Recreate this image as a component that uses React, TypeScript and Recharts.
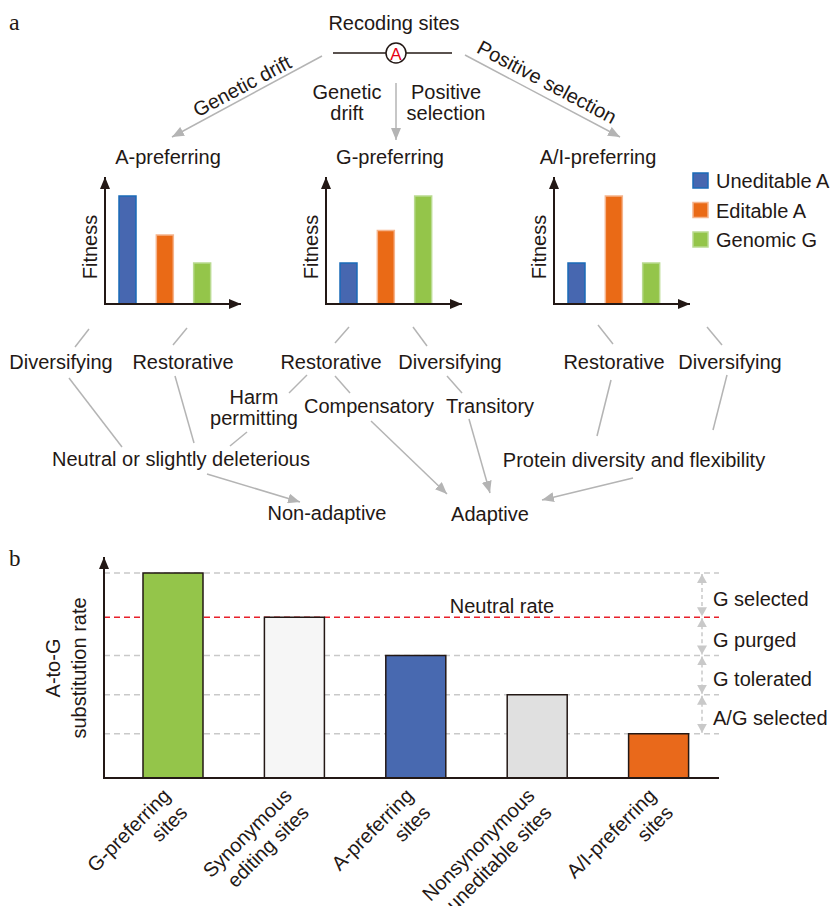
import React from 'react';
import { BarChart, Bar, XAxis, YAxis, Cell, ReferenceLine } from 'recharts';

// panel a: fitness of the three alleles under each regime
const alleles = ['Uneditable A', 'Editable A', 'Genomic G'];
const aPreferring = [100, 64, 38];
const gPreferring = [38, 68, 100];
const aiPreferring = [38, 100, 38];

// panel b: A-to-G substitution rate by site class
const siteClasses = ['G-preferring', 'Synonymous', 'A-preferring', 'Nonsynonymous', 'A/I-preferring'];
const siteLine1 = ['G-preferring', 'Synonymous', 'A-preferring', 'Nonsynonymous', 'A/I-preferring'];
const siteLine2 = ['sites', 'editing sites', 'sites', 'uneditable sites', 'sites'];
const substitutionRate = [5.1, 4.0, 3.05, 2.07, 1.1];
const neutralRate = 4.0;
const bandLabels = ['G selected', 'G purged', 'G tolerated', 'A/G selected'];

const FONT = '"Liberation Sans", Arial, Helvetica, sans-serif';
const SERIF = '"Liberation Serif", "Times New Roman", serif';
const INK = '#231815';
const GRAY = '#b4b4b4';
const GRID = '#c9c9c9';

const alleleFill = ['#4767b0', '#ea6a16', '#94c54a'];
const alleleStroke = ['#1a6bb8', '#f5b48c', '#b9da90'];
const siteFill = ['#94c54a', '#f6f6f6', '#4869b0', '#e0e0e0', '#e9691b'];

const SMALL_TOP = 177;
const SMALL_H = 127;
const SMALL_W = 136;
const SMALL_MAX = 117.6;

const B_LEFT = 104;
const B_TOP = 557;
const B_PLOT_H = 221;
const B_W = 615;
const B_AXIS_H = 128;
const B_MAX = 5.5;
const yB = (v: number) => B_TOP + B_PLOT_H * (1 - v / B_MAX);

function FitnessChart({ left, values }: { left: number; values: number[] }) {
  const data = alleles.map((name, i) => ({ name, value: values[i] }));
  return (
    <div style={{ position: 'absolute', left, top: SMALL_TOP }}>
      <BarChart width={SMALL_W} height={SMALL_H} data={data} margin={{ top: 0, right: 20, bottom: 0, left: 4 }}>
        <XAxis dataKey="name" hide />
        <YAxis hide domain={[0, SMALL_MAX]} allowDataOverflow />
        <Bar dataKey="value" barSize={17} isAnimationActive={false}>
          {data.map((d, i) => (
            <Cell key={d.name} fill={alleleFill[i]} stroke={alleleStroke[i]} strokeWidth={1.5} />
          ))}
        </Bar>
      </BarChart>
    </div>
  );
}

const SiteTick = (props: any) => {
  const { x, y, payload } = props;
  const i = siteClasses.indexOf(payload.value);
  return (
    <g transform={`translate(${x - 1},${y + 19}) rotate(-45)`}>
      <text textAnchor="end" fontSize={20} fill={INK} fontFamily={FONT}>
        <tspan x={0} dy={0}>{siteLine1[i]}</tspan>
        <tspan x={0} dy={24}>{siteLine2[i]}</tspan>
      </text>
    </g>
  );
};

const rateData = siteClasses.map((name, i) => ({ name, rate: substitutionRate[i] }));
const rateMargin = { top: 0, right: 0, bottom: 0, left: B_LEFT };

// gridlines live in a chart underneath so the bars cover them
function RateGrid() {
  const grid = substitutionRate.filter((v) => v !== neutralRate);
  return (
    <div style={{ position: 'absolute', left: 0, top: B_TOP }}>
      <BarChart width={B_LEFT + B_W} height={B_PLOT_H + B_AXIS_H} data={rateData} margin={rateMargin}>
        <XAxis dataKey="name" height={B_AXIS_H} padding={{ left: 8, right: 0 }} axisLine={false} tickLine={false} tick={false} />
        <YAxis hide domain={[0, B_MAX]} allowDataOverflow />
        {grid.map((v) => (
          <ReferenceLine key={v} y={v} stroke={GRID} strokeWidth={1.5} strokeDasharray="6 4" />
        ))}
        <ReferenceLine y={neutralRate} stroke="#e8202a" strokeWidth={1.5} strokeDasharray="6 4" />
      </BarChart>
    </div>
  );
}

function RateChart() {
  return (
    <div style={{ position: 'absolute', left: 0, top: B_TOP }}>
      <BarChart width={B_LEFT + B_W} height={B_PLOT_H + B_AXIS_H} data={rateData} margin={rateMargin}>
        <XAxis
          dataKey="name"
          height={B_AXIS_H}
          interval={0}
          padding={{ left: 8, right: 0 }}
          axisLine={{ stroke: INK, strokeWidth: 2 }}
          tickLine={false}
          tickSize={0}
          tickMargin={0}
          tick={<SiteTick />}
        />
        <YAxis hide domain={[0, B_MAX]} allowDataOverflow />
        <Bar dataKey="rate" barSize={60} isAnimationActive={false}>
          {rateData.map((d, i) => (
            <Cell key={d.name} fill={siteFill[i]} stroke={INK} strokeWidth={1.5} />
          ))}
        </Bar>
      </BarChart>
    </div>
  );
}

type Seg = [number, number, number, number];

const branchLines: Seg[] = [
  [89, 329, 75, 347], [187, 328, 173, 345], [349, 327, 335, 343],
  [413, 327, 427, 346], [598, 325, 613, 344], [707, 327, 722, 345],
  [69, 378, 122, 447], [175, 376, 194, 443], [307, 375, 289, 393],
  [335, 376, 350, 393], [447, 376, 462, 393], [247, 432, 230, 446],
  [611, 380, 597, 436], [727, 375, 713, 430],
];

const branchArrows: Seg[] = [
  [322, 56, 172, 137], [396, 83, 396, 140], [465, 55, 620, 137],
  [207, 474, 300, 502], [371, 421, 447, 494], [469, 419, 490, 493],
  [633, 478, 542, 500],
];

const nodes: [string, number, number][] = [
  ['Recoding sites', 394, 23],
  ['Genetic', 347, 92], ['drift', 347, 113],
  ['Positive', 446, 92], ['selection', 446, 113],
  ['A-preferring', 168, 157], ['G-preferring', 390, 157], ['A/I-preferring', 598, 157],
  ['Diversifying', 61, 362], ['Restorative', 183, 362], ['Restorative', 331, 362],
  ['Diversifying', 450, 362], ['Restorative', 614, 362], ['Diversifying', 730, 362],
  ['Harm', 254, 397], ['permitting', 254, 418],
  ['Compensatory', 369, 406], ['Transitory', 490, 406],
  ['Neutral or slightly deleterious', 181, 459],
  ['Protein diversity and flexibility', 634, 460],
  ['Non-adaptive', 327, 513], ['Adaptive', 490, 514],
];

const smallLefts = [105, 326, 554];

function Overlay() {
  const bands = bandLabels.map((label, i) => ({
    label,
    y1: yB(substitutionRate[i]),
    y2: yB(substitutionRate[i + 1]),
  }));
  return (
    <svg width={833} height={906} style={{ position: 'absolute', left: 0, top: 0, pointerEvents: 'none' }} fontFamily={FONT}>
      <defs>
        <marker id="gh" markerUnits="userSpaceOnUse" markerWidth={12} markerHeight={10} refX={12} refY={5} orient="auto">
          <path d="M0,0 L12,5 L0,10 z" fill={GRAY} />
        </marker>
        <marker id="dh" markerUnits="userSpaceOnUse" markerWidth={12} markerHeight={10} refX={12} refY={5} orient="auto">
          <path d="M0,0 L12,5 L0,10 z" fill={INK} />
        </marker>
        <marker id="lh" markerUnits="userSpaceOnUse" markerWidth={9} markerHeight={10} refX={9} refY={5} orient="auto-start-reverse">
          <path d="M0,0 L9,5 L0,10 z" fill={GRID} />
        </marker>
      </defs>

      <text x={9} y={30} fontFamily={SERIF} fontSize={24} fill={INK}>a</text>
      <text x={9} y={566} fontFamily={SERIF} fontSize={23} fill={INK}>b</text>

      {/* recoding site */}
      <line x1={333} y1={53} x2={452} y2={53} stroke={INK} strokeWidth={1.5} />
      <circle cx={396} cy={53} r={10} fill="#fff" stroke={INK} strokeWidth={1.5} />
      <text x={396} y={54} textAnchor="middle" dominantBaseline="central" fontSize={17} fill="#e60012">A</text>

      {branchLines.map(([x1, y1, x2, y2], i) => (
        <line key={'l' + i} x1={x1} y1={y1} x2={x2} y2={y2} stroke={GRAY} strokeWidth={1.5} />
      ))}
      {branchArrows.map(([x1, y1, x2, y2], i) => (
        <line key={'a' + i} x1={x1} y1={y1} x2={x2} y2={y2} stroke={GRAY} strokeWidth={1.5} markerEnd="url(#gh)" />
      ))}

      <text transform="translate(242,86) rotate(-28)" textAnchor="middle" dominantBaseline="central" fontSize={20} fill={INK}>Genetic drift</text>
      <text transform="translate(547,82) rotate(28)" textAnchor="middle" dominantBaseline="central" fontSize={20} fill={INK}>Positive selection</text>

      {nodes.map(([t, x, y], i) => (
        <text key={'n' + i} x={x} y={y} textAnchor="middle" dominantBaseline="central" fontSize={20} fill={INK}>{t}</text>
      ))}

      {/* small chart axes */}
      {smallLefts.map((x0) => (
        <g key={x0}>
          <line x1={x0} y1={SMALL_TOP + SMALL_H} x2={x0} y2={SMALL_TOP} stroke={INK} strokeWidth={2} markerEnd="url(#dh)" />
          <line x1={x0 - 1} y1={SMALL_TOP + SMALL_H} x2={x0 + SMALL_W} y2={SMALL_TOP + SMALL_H} stroke={INK} strokeWidth={2} markerEnd="url(#dh)" />
          <text transform={`translate(${x0 - 15},247) rotate(-90)`} textAnchor="middle" dominantBaseline="central" fontSize={20} fill={INK}>Fitness</text>
        </g>
      ))}

      {/* legend */}
      {alleles.map((name, i) => (
        <g key={name}>
          <rect x={693} y={173 + i * 29.5} width={15} height={15} fill={alleleFill[i]} stroke={alleleStroke[i]} strokeWidth={1.5} />
          <text x={716} y={181 + i * 29.5} dominantBaseline="central" fontSize={20} fill={INK}>{name}</text>
        </g>
      ))}

      {/* panel b */}
      <line x1={B_LEFT} y1={B_TOP + B_PLOT_H + 1} x2={B_LEFT} y2={B_TOP} stroke={INK} strokeWidth={2} markerEnd="url(#dh)" />
      <text transform="translate(53,668) rotate(-90)" textAnchor="middle" dominantBaseline="central" fontSize={20} fill={INK}>A-to-G</text>
      <text transform="translate(79,668) rotate(-90)" textAnchor="middle" dominantBaseline="central" fontSize={20} fill={INK}>substitution rate</text>
      <text x={502} y={606} textAnchor="middle" dominantBaseline="central" fontSize={20} fill={INK}>Neutral rate</text>
      {bands.map((b) => (
        <g key={b.label}>
          <line x1={702} y1={b.y1 + 1} x2={702} y2={b.y2 - 1} stroke={GRID} strokeWidth={1.5} strokeDasharray="4 3" markerStart="url(#lh)" markerEnd="url(#lh)" />
          <text x={713} y={(b.y1 + b.y2) / 2 + 4} dominantBaseline="central" fontSize={20} fill={INK}>{b.label}</text>
        </g>
      ))}
    </svg>
  );
}

export default function App() {
  return (
    <div style={{ position: 'absolute', left: 0, top: 0, width: 833, height: 906, background: '#fff', fontFamily: FONT }}>
      <FitnessChart left={105} values={aPreferring} />
      <FitnessChart left={326} values={gPreferring} />
      <FitnessChart left={554} values={aiPreferring} />
      <RateGrid />
      <RateChart />
      <Overlay />
    </div>
  );
}
